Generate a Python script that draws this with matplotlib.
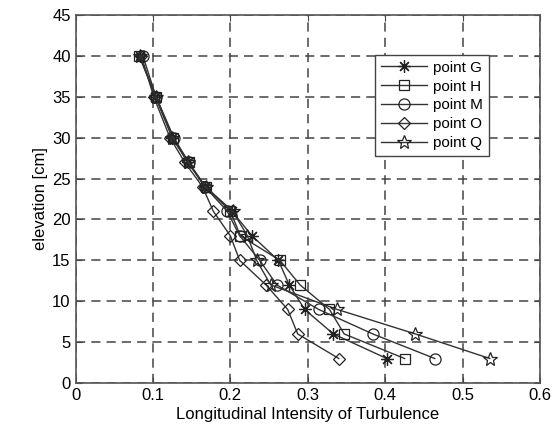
import numpy as np
import matplotlib
matplotlib.use('Agg')
import matplotlib.pyplot as plt

plt.rcParams['font.family'] = ['Liberation Sans', 'DejaVu Sans']

# elevation levels [cm]
elevation = [40, 35, 30, 27, 24, 21, 18, 15, 12, 9, 6, 3]

# longitudinal intensity of turbulence per measuring point
point_G = [0.083, 0.103, 0.125, 0.145, 0.167, 0.202, 0.228, 0.262, 0.276, 0.296, 0.333, 0.402]
point_H = [0.082, 0.104, 0.126, 0.146, 0.168, 0.200, 0.213, 0.264, 0.290, 0.328, 0.347, 0.425]
point_M = [0.087, 0.104, 0.127, 0.146, 0.167, 0.196, 0.212, 0.238, 0.260, 0.314, 0.384, 0.464]
point_O = [0.085, 0.101, 0.122, 0.141, 0.164, 0.178, 0.200, 0.212, 0.246, 0.274, 0.287, 0.340]
point_Q = [0.083, 0.104, 0.125, 0.145, 0.168, 0.203, 0.222, 0.234, 0.252, 0.338, 0.439, 0.535]

series = [
    ('point G', point_G, (8, 2, 0), 9),
    ('point H', point_H, 's', 7),
    ('point M', point_M, 'o', 8),
    ('point O', point_O, 'D', 6),
    ('point Q', point_Q, '*', 10),
]

fig = plt.figure(figsize=(5.57, 4.48), dpi=100)
ax = fig.add_axes([0.1356, 0.145, 0.834, 0.8215])

for label, vals, mk, ms in series:
    ax.plot(vals, elevation, color='#333333', lw=1.0, marker=mk, ms=ms,
            mfc='none', mec='#222222', mew=0.9, label=label)

ax.set_xlim(0, 0.6)
ax.set_ylim(0, 45)
ax.set_xticks(np.arange(0, 0.61, 0.1))
ax.set_xticklabels(['0', '0.1', '0.2', '0.3', '0.4', '0.5', '0.6'])
ax.set_yticks(np.arange(0, 46, 5))
ax.grid(True, color='#444444', linestyle=(0, (6, 4)), linewidth=1.1)
ax.tick_params(labelsize=12, direction='in', length=4, color='#444444',
               top=True, right=True)
for s in ax.spines.values():
    s.set_color('#555555')
    s.set_linewidth(1.2)

ax.set_xlabel('Longitudinal Intensity of Turbulence', fontsize=12, labelpad=3)
ax.set_ylabel('elevation [cm]', fontsize=12, labelpad=3)

leg = ax.legend(loc='upper left', bbox_to_anchor=(0.635, 0.905), fontsize=11,
                fancybox=False, framealpha=1, edgecolor='#444444',
                handlelength=3.0, labelspacing=0.32, borderpad=0.4,
                handletextpad=0.4, borderaxespad=0.3)
leg.get_frame().set_linewidth(1.0)

plt.savefig('out.png', dpi=100)
